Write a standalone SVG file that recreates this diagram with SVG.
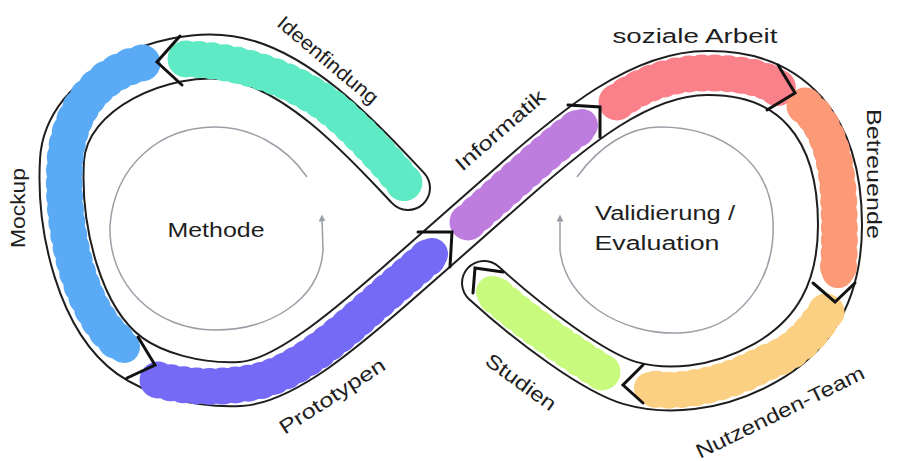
<svg xmlns="http://www.w3.org/2000/svg" width="908" height="461" viewBox="0 0 908 461">
<defs>
<style>
.lbl{font-family:"Liberation Sans","DejaVu Sans",sans-serif;font-size:20px;fill:#1e1e1e;text-anchor:middle}
.seg{fill:none;stroke-width:32;stroke-linecap:round;stroke-linejoin:round}
.dots{fill:none;stroke-width:37;stroke-linecap:round;stroke-dasharray:0 13}
.chev{fill:none;stroke:#111;stroke-width:3;stroke-linecap:round;stroke-linejoin:miter}
.cyc{fill:none;stroke:#9a9fa6;stroke-width:1.5}
.edge{fill:none;stroke-linecap:round;stroke-linejoin:round}
</style>
<marker id="ah" viewBox="0 0 10 10" refX="5" refY="5" markerWidth="7" markerHeight="7" orient="auto" markerUnits="userSpaceOnUse">
<path d="M0,0 L10,5 L0,10 z" fill="#9a9fa6"/>
</marker>
</defs>
<rect width="908" height="461" fill="#fff"/>
<g id="band">
<path class="edge" stroke="#1e1e1e" stroke-width="46" d="M408,188 C370,148 300,68 230,58 C165,48 66,90 62,160 C58,230 80,320 130,356 C154,373 195,386 240,384 C285,382 350,325 396,285 L513,182 C573,129 640,73 707,73 C790,72 840,125 840,225 C840,290 815,335 765,363 C715,391 665,393 630,383 C595,373 530,325 484,283"/>
<path class="edge" stroke="#fff" stroke-width="42" d="M408,188 C370,148 300,68 230,58 C165,48 66,90 62,160 C58,230 80,320 130,356 C154,373 195,386 240,384 C285,382 350,325 396,285 L513,182 C573,129 640,73 707,73 C790,72 840,125 840,225 C840,290 815,335 765,363 C715,391 665,393 630,383 C595,373 530,325 484,283"/>
</g>
<g id="mockup">
<path class="seg" stroke="#5aaaf5" d="M142,63 C105,72 70,102 65,160 C60,230 80,315 124,347"/>
<path class="dots" stroke="#5aaaf5" d="M142,63 C105,72 70,102 65,160 C60,230 80,315 124,347"/>
<text class="lbl" transform="translate(18,208) rotate(-90)" y="7" textLength="80" lengthAdjust="spacingAndGlyphs">Mockup</text>
</g>
<g id="ideenfindung">
<path class="seg" stroke="#5eeac4" d="M186,59 C240,60 300,80 340,115 C370,142 392,168 405,184"/>
<path class="dots" stroke="#5eeac4" d="M186,59 C240,60 300,80 340,115 C370,142 392,168 405,184"/>
<text class="lbl" transform="translate(328,60) rotate(40)" y="7" textLength="125" lengthAdjust="spacingAndGlyphs">Ideenfindung</text>
</g>
<g id="prototypen">
<path class="seg" stroke="#746af5" d="M158,380 C190,388 220,388 250,383 C300,375 350,325 396,285 L432,254"/>
<path class="dots" stroke="#746af5" d="M158,380 C190,388 220,388 250,383 C300,375 350,325 396,285 L432,254"/>
<text class="lbl" transform="translate(332,396) rotate(-33)" y="7" textLength="122" lengthAdjust="spacingAndGlyphs">Prototypen</text>
</g>
<g id="informatik">
<path class="seg" stroke="#be7cde" d="M468,222 L513,182 C540,158 560,140 582,125"/>
<path class="dots" stroke="#be7cde" d="M468,222 L513,182 C540,158 560,140 582,125"/>
<text class="lbl" transform="translate(500,130) rotate(-41)" y="7" textLength="112" lengthAdjust="spacingAndGlyphs">Informatik</text>
</g>
<g id="soziale-arbeit">
<path class="seg" stroke="#fa808a" d="M617,102 C640,85 670,73 707,73 C740,73 765,78 778,88"/>
<path class="dots" stroke="#fa808a" d="M617,102 C640,85 670,73 707,73 C740,73 765,78 778,88"/>
<text class="lbl" x="695" y="43" textLength="165" lengthAdjust="spacingAndGlyphs">soziale Arbeit</text>
</g>
<g id="betreuende">
<path class="seg" stroke="#fc9a78" d="M805,106 C828,125 838,160 839,210 C840,245 839,262 838,272"/>
<path class="dots" stroke="#fc9a78" d="M805,106 C828,125 838,160 839,210 C840,245 839,262 838,272"/>
<text class="lbl" transform="translate(874,174) rotate(90)" y="7" textLength="130" lengthAdjust="spacingAndGlyphs">Betreuende</text>
</g>
<g id="nutzenden-team">
<path class="seg" stroke="#fcd082" d="M826,312 C808,340 790,355 765,363 C715,391 665,393 650,388"/>
<path class="dots" stroke="#fcd082" d="M826,312 C808,340 790,355 765,363 C715,391 665,393 650,388"/>
<text class="lbl" transform="translate(780,412) rotate(-26)" y="7" textLength="185" lengthAdjust="spacingAndGlyphs">Nutzenden-Team</text>
</g>
<g id="studien">
<path class="seg" stroke="#c8fa7d" d="M602,372 C570,352 530,325 492,292"/>
<path class="dots" stroke="#c8fa7d" d="M602,372 C570,352 530,325 492,292"/>
<text class="lbl" transform="translate(521,382) rotate(36)" y="7" textLength="82" lengthAdjust="spacingAndGlyphs">Studien</text>
</g>
<g id="methode">
<path class="cyc" marker-end="url(#ah)" d="M307,177 C285,145 250,127 215,127 C160,127 115,165 110,225 C108,285 155,330 215,330 C270,330 320,300 323,250 L322,218"/>
<text class="lbl" x="216" y="237" textLength="97" lengthAdjust="spacingAndGlyphs">Methode</text>
</g>
<g id="validierung">
<path class="cyc" marker-end="url(#ah)" d="M577,177 C600,145 630,127 660,127 C720,127 770,160 773,220 C776,280 740,330 680,333 C620,335 565,300 560,250 L560,218"/>
<text class="lbl" x="665" y="220" textLength="140" lengthAdjust="spacingAndGlyphs">Validierung /</text>
<text class="lbl" x="657" y="250" textLength="125" lengthAdjust="spacingAndGlyphs">Evaluation</text>
</g>
<g id="connectors">
<path class="chev" d="M180,36 L157,62 L182,85"/>
<path class="chev" d="M138,337 L155,365 L127,378"/>
<path class="chev" d="M418,232 L452,232 L450,267"/>
<path class="chev" d="M568,105 L600,107 L600,137"/>
<path class="chev" d="M778,65 L795,93 L767,110"/>
<path class="chev" d="M813,283 L835,302 L855,283"/>
<path class="chev" d="M643,365 L623,385 L643,403"/>
<path class="chev" d="M473,293 L475,268 L503,272"/>
</g>
</svg>
